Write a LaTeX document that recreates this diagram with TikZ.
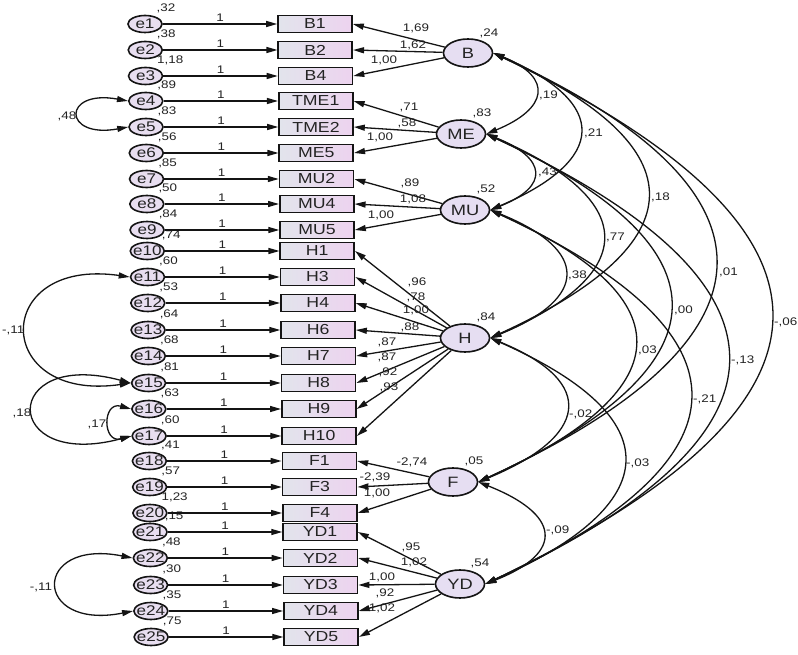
\documentclass[tikz,border=0pt]{standalone}
\usepackage{fontspec}
\setmainfont{Liberation Sans}[FakeStretch=1.22]
\usetikzlibrary{arrows.meta,shapes.geometric}
\pgfdeclarelayer{back}
\pgfdeclarelayer{bg}
\pgfsetlayers{back,bg,main}
\definecolor{lineC}{RGB}{20,20,20}
\definecolor{txtC}{RGB}{35,35,35}
\definecolor{errFill}{RGB}{232,222,240}
\definecolor{latFill}{RGB}{230,222,242}
\definecolor{boxL}{RGB}{226,228,236}
\definecolor{boxR}{RGB}{237,211,239}
\tikzset{
  err/.style={ellipse, draw=lineC, line width=1.6pt, fill=errFill, minimum width=34pt, minimum height=17pt, inner sep=0pt, font=\fontsize{14}{14}\selectfont, text=txtC},
  lat/.style={ellipse, draw=lineC, line width=1.6pt, fill=latFill, minimum width=49pt, minimum height=28pt, inner sep=0pt, font=\fontsize{15}{15}\selectfont, text=txtC},
  ind/.style={rectangle, draw=lineC, line width=1.6pt, left color=boxL, right color=boxR, minimum width=74pt, minimum height=17pt, inner sep=0pt, font=\fontsize{14.5}{15}\selectfont, text=txtC},
  lbl/.style={inner sep=0.5pt, font=\fontsize{11}{11}\selectfont, text=txtC},
  arr/.style={draw=lineC, line width=1.3pt, -{Triangle[length=11pt,width=6pt]}},
  cov/.style={draw=lineC, line width=1.3pt, {Triangle[length=11pt,width=6pt]}-{Triangle[length=11pt,width=6pt]}},
}
% #5 = horizontal offset of the variance label from the ellipse centre
\newcommand{\MeasRow}[5]{%
  \pgfmathsetmacro{\xe}{145+5*(#2-24)/500}%
  \pgfmathsetmacro{\xb}{315+5*(#2-24)/500}%
  \begin{pgfonlayer}{bg}\node[lbl,anchor=west] (v#1) at (\xe+#5,#2-16) {#4};\end{pgfonlayer}%
  \node[err] (e#1) at (\xe,#2) {\makebox[0pt]{e#1}};%
  \node[ind] (#3) at (\xb,#2) {#3};%
  \draw[arr] (e#1) -- node[lbl,above=1.5pt] {1} (#3);%
}
\begin{document}
\begin{tikzpicture}[x=1pt,y=-1pt]
\useasboundingbox (0,0) rectangle (798,655);
\begin{pgfonlayer}{back}\fill[white] (0,0) rectangle (798,655);\end{pgfonlayer}

% measurement rows
\MeasRow{1}{24}{B1}{,32}{11}
\MeasRow{2}{50}{B2}{,38}{11}
\MeasRow{3}{76}{B4}{1,18}{11}
\MeasRow{4}{101}{TME1}{,89}{11}
\MeasRow{5}{127}{TME2}{,83}{11}
\MeasRow{6}{153}{ME5}{,56}{11}
\MeasRow{7}{179}{MU2}{,85}{11}
\MeasRow{8}{204}{MU4}{,50}{11}
\MeasRow{9}{230}{MU5}{,84}{11}
\MeasRow{10}{251}{H1}{,74}{14}
\MeasRow{11}{277}{H3}{,60}{11}
\MeasRow{12}{303}{H4}{,53}{11}
\MeasRow{13}{330}{H6}{,64}{11}
\MeasRow{14}{356}{H7}{,68}{11}
\MeasRow{15}{383}{H8}{,81}{11}
\MeasRow{16}{409}{H9}{,63}{11}
\MeasRow{17}{436}{H10}{,60}{11}
\MeasRow{18}{461}{F1}{,41}{11}
\MeasRow{19}{487}{F3}{,57}{11}
\MeasRow{20}{513}{F4}{1,23}{11}
\MeasRow{21}{532}{YD1}{,15}{14}
\MeasRow{22}{558}{YD2}{,48}{11}
\MeasRow{23}{585}{YD3}{,30}{11}
\MeasRow{24}{611}{YD4}{,35}{11}
\MeasRow{25}{637}{YD5}{,75}{11}

% error covariances
\draw[cov] (e4.west) .. controls +(-66,-12) and +(-66,12) .. (e5.west) node[lbl] at (67,116) {,48};
\draw[cov] (e11.west) .. controls +(-139,-20) and +(-139,20) .. (e15.west) node[lbl,anchor=west] at (1,330) {-,11};
\draw[cov] (e15.west) .. controls +(-131,-35) and +(-131,35) .. (e17.west) node[lbl] at (22,413) {,18};
\draw[cov] (e16.west) .. controls +(-29,-8) and +(-29,8) .. (e17.west) node[lbl] at (97,424) {,17};
\draw[cov] (e22.west) .. controls +(-101,-20) and +(-101,20) .. (e24.west) node[lbl] at (41,587) {-,11};

% latent variables
\node[lat] (B) at (468,53) {B};
\node[lat] (ME) at (461,134) {ME};
\node[lat] (MU) at (465,210) {MU};
\node[lat] (H) at (465,338) {H};
\node[lat] (F) at (453,482) {F};
\node[lat] (YD) at (460,584) {YD};
\node[lbl] (vB) at (489,33) {,24};
\node[lbl] (vME) at (482,113) {,83};
\node[lbl] (vMU) at (486,189) {,52};
\node[lbl] (vH) at (486,317) {,84};
\node[lbl] (vF) at (474,461) {,05};
\node[lbl] (vYD) at (480,563) {,54};

% loadings
\draw[arr] (B) -- (B1.east) node[lbl] at (416,28) {1,69};
\draw[arr] (B) -- (B2.east) node[lbl] at (413,45) {1,62};
\draw[arr] (B) -- (B4.east) node[lbl] at (384,60) {1,00};
\draw[arr] (ME) -- (TME1.east) node[lbl] at (409,107) {,71};
\draw[arr] (ME) -- (TME2.east) node[lbl] at (407,123) {,58};
\draw[arr] (ME) -- (ME5.east) node[lbl] at (380,137) {1,00};
\draw[arr] (MU) -- (MU2.east) node[lbl] at (410,183) {,89};
\draw[arr] (MU) -- (MU4.east) node[lbl] at (413,199) {1,08};
\draw[arr] (MU) -- (MU5.east) node[lbl] at (381,215) {1,00};
\draw[arr] (H) -- (H1.east) node[lbl] at (417,282) {,96};
\draw[arr] (H) -- (H3.east) node[lbl] at (416,297) {,78};
\draw[arr] (H) -- (H4.east) node[lbl] at (416,310) {1,00};
\draw[arr] (H) -- (H6.east) node[lbl] at (410,327) {,88};
\draw[arr] (H) -- (H7.east) node[lbl] at (387,342) {,87};
\draw[arr] (H) -- (H8.east) node[lbl] at (387,357) {,87};
\draw[arr] (H) -- (H9.east) node[lbl] at (388,372) {,92};
\draw[arr] (H) -- (H10.east) node[lbl] at (389,387) {,93};
\draw[arr] (F) -- (F1.east) node[lbl] at (412,462) {-2,74};
\draw[arr] (F) -- (F3.east) node[lbl] at (375,477) {-2,39};
\draw[arr] (F) -- (F4.east) node[lbl] at (377,493) {1,00};
\draw[arr] (YD) -- (YD1.east) node[lbl] at (411,547) {,95};
\draw[arr] (YD) -- (YD2.east) node[lbl] at (414,562) {1,02};
\draw[arr] (YD) -- (YD3.east) node[lbl] at (382,577) {1,00};
\draw[arr] (YD) -- (YD4.east) node[lbl] at (385,593) {,92};
\draw[arr] (YD) -- (YD5.east) node[lbl] at (382,608) {1,02};

% latent covariances
\draw[cov] (B.east) .. controls +(61,25) and +(61,-25) .. (ME.east) node[lbl,anchor=west] at (538,95) {,19};
\draw[cov] (B.east) .. controls +(117,50) and +(117,-50) .. (MU.east) node[lbl,anchor=west] at (583,133) {,21};
\draw[cov] (B.east) .. controls +(207,95) and +(207,-95) .. (H.east) node[lbl,anchor=west] at (650,197) {,18};
\draw[cov] (B.east) .. controls +(305,140) and +(305,-140) .. (F.east) node[lbl,anchor=west] at (718,272) {,01};
\draw[cov] (B.east) .. controls +(375,180) and +(375,-180) .. (YD.east) node[lbl,anchor=west] at (773,322) {-,06};
\draw[cov] (ME.east) .. controls +(60,24) and +(60,-24) .. (MU.east) node[lbl,anchor=west] at (537,172) {,43};
\draw[cov] (ME.east) .. controls +(152,65) and +(152,-65) .. (H.east) node[lbl,anchor=west] at (605,237) {,77};
\draw[cov] (ME.east) .. controls +(250,115) and +(250,-115) .. (F.east) node[lbl,anchor=west] at (673,310) {,00};
\draw[cov] (ME.east) .. controls +(322,150) and +(322,-150) .. (YD.east) node[lbl,anchor=west] at (730,360) {-,13};
\draw[cov] (MU.east) .. controls +(99,40) and +(99,-40) .. (H.east) node[lbl,anchor=west] at (567,275) {,38};
\draw[cov] (MU.east) .. controls +(200,90) and +(200,-90) .. (F.east) node[lbl,anchor=west] at (637,350) {,03};
\draw[cov] (MU.east) .. controls +(269,125) and +(269,-125) .. (YD.east) node[lbl,anchor=west] at (692,399) {-,21};
\draw[cov] (H.east) .. controls +(109,45) and +(109,-45) .. (F.east) node[lbl,anchor=west] at (568,414) {-,02};
\draw[cov] (H.east) .. controls +(181,80) and +(181,-80) .. (YD.east) node[lbl,anchor=west] at (625,463) {-,03};
\draw[cov] (F.east) .. controls +(81,32) and +(81,-32) .. (YD.east) node[lbl,anchor=west] at (545,530) {-,09};
\end{tikzpicture}
\end{document}
